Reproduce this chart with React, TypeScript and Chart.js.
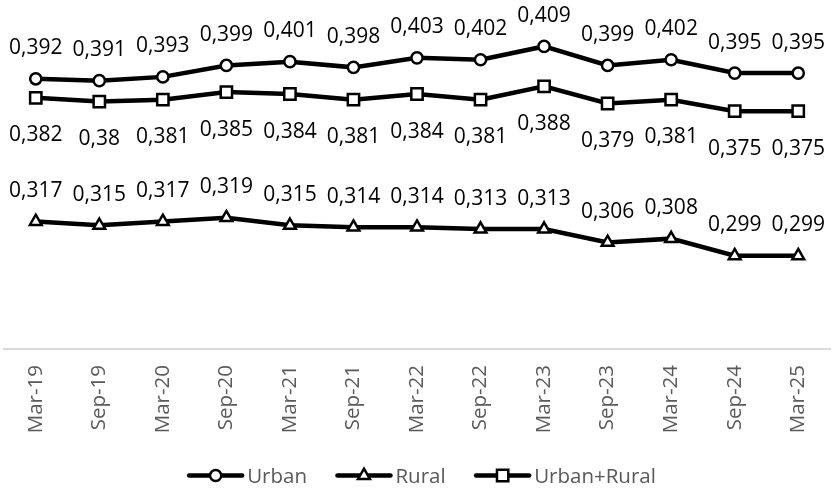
import React, { useEffect, useRef } from 'react';
import { Chart, registerables } from 'chart.js';

Chart.register(...registerables);

// ---- data ----
const categories = ['Mar-19', 'Sep-19', 'Mar-20', 'Sep-20', 'Mar-21', 'Sep-21', 'Mar-22', 'Sep-22', 'Mar-23', 'Sep-23', 'Mar-24', 'Sep-24', 'Mar-25'];
const urban = [0.392, 0.391, 0.393, 0.399, 0.401, 0.398, 0.403, 0.402, 0.409, 0.399, 0.402, 0.395, 0.395];
const rural = [0.317, 0.315, 0.317, 0.319, 0.315, 0.314, 0.314, 0.313, 0.313, 0.306, 0.308, 0.299, 0.299];
const urbanRural = [0.382, 0.38, 0.381, 0.385, 0.384, 0.381, 0.384, 0.381, 0.388, 0.379, 0.381, 0.375, 0.375];
const seriesNames = ['Urban', 'Rural', 'Urban+Rural'];
const yMin = 0.25;
const yMax = 0.42;

// ---- style ----
const FONT = '"Open Sans", Lato, sans-serif';
const W = 832;
const H = 488;

const fmt = (v: number) => String(v).replace('.', ',');

function drawMarker(ctx: CanvasRenderingContext2D, style: string, x: number, y: number, r: number, bw: number) {
  ctx.save();
  ctx.beginPath();
  if (style === 'circle') {
    ctx.arc(x, y, r, 0, Math.PI * 2);
  } else if (style === 'rect') {
    const s = r * Math.SQRT1_2;
    ctx.rect(x - s, y - s, 2 * s, 2 * s);
  } else {
    ctx.moveTo(x, y - r);
    ctx.lineTo(x + r * 0.866, y + r / 2);
    ctx.lineTo(x - r * 0.866, y + r / 2);
    ctx.closePath();
  }
  ctx.fillStyle = '#ffffff';
  ctx.fill();
  ctx.lineWidth = bw;
  ctx.strokeStyle = '#000000';
  ctx.stroke();
  ctx.restore();
}

const valueLabelPlugin = {
  id: 'valueLabels',
  afterDatasetsDraw(chart: any) {
    const ctx = chart.ctx as CanvasRenderingContext2D;
    ctx.save();
    ctx.font = `21px ${FONT}`;
    ctx.fillStyle = '#000000';
    ctx.textAlign = 'center';
    ctx.textBaseline = 'alphabetic';
    chart.data.datasets.forEach((ds: any, i: number) => {
      const meta = chart.getDatasetMeta(i);
      const below = ds.labelPos === 'below';
      meta.data.forEach((pt: any, j: number) => {
        const y = below ? pt.y + 43.5 : pt.y - 24.5;
        ctx.fillText(fmt(ds.data[j]), pt.x, y);
      });
    });
    ctx.restore();
  },
};

const legendPlugin = {
  id: 'lineLegend',
  afterDraw(chart: any) {
    const ctx = chart.ctx as CanvasRenderingContext2D;
    const swatch = 57;
    const textGap = 3;
    const itemGap = 28.5;
    const lineY = 475.5;
    const baseY = 483;
    ctx.save();
    ctx.font = `20.5px ${FONT}`;
    const items = chart.data.datasets.map((ds: any) => ({ ds, tw: ctx.measureText(ds.label).width }));
    const total = items.reduce((s: number, it: any) => s + swatch + textGap + it.tw, 0) + itemGap * (items.length - 1);
    let x = 421.5 - total / 2;
    items.forEach((it: any) => {
      ctx.beginPath();
      ctx.lineWidth = it.ds.borderWidth;
      ctx.lineCap = 'round';
      ctx.strokeStyle = '#000000';
      ctx.moveTo(x + 2, lineY);
      ctx.lineTo(x + swatch - 2, lineY);
      ctx.stroke();
      drawMarker(ctx, it.ds.pointStyle, x + swatch / 2, lineY, it.ds.pointRadius, it.ds.pointBorderWidth);
      ctx.fillStyle = '#595959';
      ctx.textAlign = 'left';
      ctx.textBaseline = 'alphabetic';
      ctx.fillText(it.ds.label, x + swatch + textGap, baseY);
      x += swatch + textGap + it.tw + itemGap;
    });
    ctx.restore();
  },
};

export default function App() {
  const ref = useRef<HTMLCanvasElement | null>(null);

  useEffect(() => {
    if (!ref.current) return;
    const common = {
      borderColor: '#000000',
      borderWidth: 4.5,
      pointBackgroundColor: '#ffffff',
      pointBorderColor: '#000000',
      pointBorderWidth: 2.5,
      pointHoverRadius: 0,
      tension: 0,
      fill: false,
    };
    const chart = new Chart(ref.current, {
      type: 'line',
      data: {
        labels: categories,
        datasets: [
          { ...common, label: seriesNames[0], data: urban, pointStyle: 'circle', pointRadius: 5.6, labelPos: 'above' } as any,
          { ...common, label: seriesNames[1], data: rural, pointStyle: 'triangle', pointRadius: 6.8, labelPos: 'above' } as any,
          { ...common, label: seriesNames[2], data: urbanRural, pointStyle: 'rect', pointRadius: 8, labelPos: 'below' } as any,
        ],
      },
      options: {
        responsive: false,
        animation: false,
        devicePixelRatio: 1,
        layout: { autoPadding: false, padding: { top: 25.5, left: 4, right: 2, bottom: 50 } },
        plugins: {
          legend: { display: false },
          tooltip: { enabled: false },
        },
        scales: {
          x: {
            type: 'category',
            offset: true,
            grid: { display: false, drawTicks: false },
            border: { display: true, color: '#d9d9d9', width: 2 },
            ticks: {
              autoSkip: false,
              minRotation: 90,
              maxRotation: 90,
              padding: 16,
              color: '#595959',
              font: { family: FONT, size: 20.5 },
            },
            afterFit: (scale: any) => {
              scale.height = 89;
              scale.paddingLeft = 0;
              scale.paddingRight = 0;
            },
          },
          y: {
            display: false,
            min: yMin,
            max: yMax,
          },
        },
      },
      plugins: [valueLabelPlugin, legendPlugin],
    });
    return () => chart.destroy();
  }, []);

  return (
    <div style={{ position: 'fixed', left: 0, top: 0, width: W, height: H, background: '#ffffff' }}>
      <canvas ref={ref} width={W} height={H} style={{ display: 'block', width: W, height: H }} />
    </div>
  );
}
